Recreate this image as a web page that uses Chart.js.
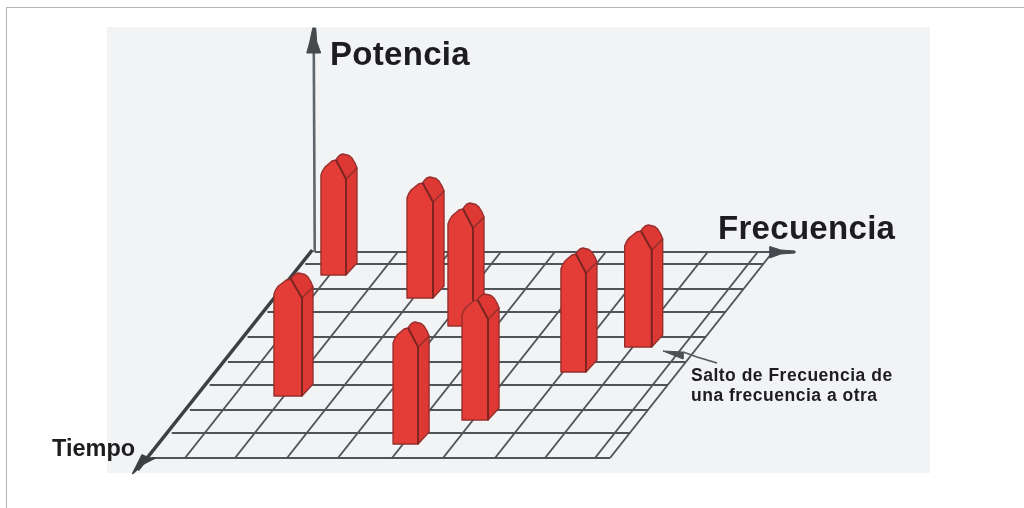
<!DOCTYPE html>
<html>
<head>
<meta charset="utf-8">
<title>Salto de Frecuencia</title>
<script src="https://cdn.jsdelivr.net/npm/chart.js@4"></script>
<style>
    body { margin: 0; background: #fff; }
    .frame { position: absolute; left: 6px; top: 7px; right: 0; bottom: 0; border-left: 1px solid #b4b4b4; border-top: 1px solid #b4b4b4; }
    canvas { position: absolute; left: 0; top: 0; }
</style>
</head>
<body>
<div class="frame"></div>
<canvas id="hopChart" width="1024" height="508"></canvas>
<script>
// grid lines on the floor
const frequencyTicks = [0, 33, 83, 135, 186, 240, 291, 343, 393, 443, 458];
const timeTicks = [0, 25, 48, 73, 96, 121, 146, 169, 194, 206];

// one entry per hop, far ones first
const hopFrequency = [24.4, 128.6, 191.7, 385, 341, 73, 280, 230];
const hopTime = [183, 160, 132, 111, 86, 62, 38, 14];
const hopPower = [121, 121, 123, 122, 124, 123, 126, 122];
const hopWidth = [25, 26, 25, 27, 25, 28, 26, 25];

const SHEAR = 0.79;

// floor coordinates + height to the flat chart coordinates
function project(f, t, p) {
    return { x: f + t * SHEAR, y: t + (p || 0) };
}

function polyline(points, color, width) {
    return {
        data: points,
        showLine: true,
        borderColor: color,
        borderWidth: width,
        pointRadius: 0,
        tension: 0,
        fill: false,
        clip: false,
    };
}

function polygon(points, fillColor, lineColor, width) {
    return {
        data: points.concat([points[0]]),
        showLine: true,
        borderColor: lineColor,
        borderWidth: width,
        backgroundColor: fillColor,
        pointRadius: 0,
        tension: 0,
        fill: 'shape',
        clip: false,
        borderJoinStyle: 'round',
    };
}

const GRID = '#505357';
const AXIS = '#46494d';
const RED = '#e43c37';
const RED_SIDE = '#de3834';
const EDGE = '#96302c';
const INNER_EDGE = '#7d2522';

const layers = [];

// floor
timeTicks.forEach(function (t) {
    layers.push(polyline([project(0, t), project(458, t)], GRID, 2.2));
});
frequencyTicks.slice(1).forEach(function (f) {
    layers.push(polyline([project(f, 0), project(f, 206)], GRID, 1.9));
});

// axes and arrow heads, all offsets from the axis ends
const powerBase = project(0, 206);
layers.push(polyline([powerBase, { x: powerBase.x - 1, y: powerBase.y + 215 }], '#5f666b', 2.6));
layers.push(polygon([
    { x: powerBase.x - 2, y: 430 }, { x: powerBase.x + 1, y: 430 }, { x: powerBase.x + 2, y: 416 },
    { x: powerBase.x + 6, y: 405 }, { x: powerBase.x - 8, y: 405 }, { x: powerBase.x - 5, y: 416 },
], AXIS, AXIS, 1));

layers.push(polyline([project(-5, -12), project(-4, 208)], '#3c3f43', 3.6));
layers.push(polygon([
    project(-7, -16), project(-12.4, 3), project(-3, 0), project(3, 0), project(-4, -6),
], '#3c3f43', '#3c3f43', 1.5));

const freqEnd = project(480, 206);
layers.push(polyline([project(458, 206), freqEnd], AXIS, 2.2));
layers.push(polygon([
    { x: freqEnd.x - 25, y: freqEnd.y + 5.5 }, { x: freqEnd.x - 14, y: freqEnd.y + 2 }, { x: freqEnd.x, y: freqEnd.y + 1 },
    { x: freqEnd.x, y: freqEnd.y - 1 }, { x: freqEnd.x - 14, y: freqEnd.y - 2 }, { x: freqEnd.x - 25, y: freqEnd.y - 6 },
], AXIS, AXIS, 1));

// pointer from the note to the hop
layers.push(polyline([{ x: 531, y: 106 }, { x: 545, y: 101 }, { x: 565, y: 95 }], '#55585c', 1.6));
layers.push(polygon([{ x: 511, y: 107 }, { x: 531, y: 106 }, { x: 531, y: 99 }], '#4d5054', '#4d5054', 1));

// hops, every one a block with a pitched top
hopFrequency.forEach(function (f, i) {
    const base = project(f, hopTime[i]);
    const w = hopWidth[i];
    const h = hopPower[i];
    const at = function (dx, dy) { return { x: base.x + dx, y: base.y + dy }; };

    layers.push(polygon([
        at(w, 0), at(w + 11, 12), at(w + 11, h - 14), at(w, h - 25),
    ], RED_SIDE, EDGE, 1.4));
    layers.push(polygon([
        at(w * 0.6, h - 6), at(w, h - 25), at(w + 11, h - 14), at(w + 9, h - 9), at(w + 6, h - 4),
        at(w + 3, h - 1.5), at(w * 0.88, h), at(w * 0.76, h - 1), at(w * 0.68, h - 3),
    ], RED_SIDE, EDGE, 1.4));
    layers.push(polygon([
        at(0, 0), at(w, 0), at(w, h - 25), at(w * 0.6, h - 6), at(w * 0.44, h - 7), at(w * 0.3, h - 10),
        at(w * 0.16, h - 13), at(w * 0.06, h - 17), at(0, h - 21),
    ], RED, EDGE, 1.4));
    layers.push(polyline([at(w, 0), at(w, h - 25), at(w * 0.6, h - 6)], INNER_EDGE, 1.9));
});

const annotations = [
    { text: 'Potencia', x: 178, y: 393, font: 'bold 33px "Liberation Sans"', spacing: '0.3px' },
    { text: 'Frecuencia', x: 566, y: 219, font: 'bold 33px "Liberation Sans"', spacing: '0.3px' },
    { text: 'Tiempo', x: -100, y: 2, font: 'bold 23.5px "Liberation Sans"', spacing: '0px' },
    { text: 'Salto de Frecuencia de', x: 539, y: 77, font: 'bold 17.5px "Liberation Sans"', spacing: '0.5px' },
    { text: 'una frecuencia a otra', x: 539, y: 57, font: 'bold 17.5px "Liberation Sans"', spacing: '0.5px' },
];

const panel = {
    id: 'panel',
    beforeDraw: function (chart) {
        const a = chart.chartArea;
        chart.ctx.fillStyle = '#f1f3f5';
        chart.ctx.fillRect(a.left, a.top, a.right - a.left, a.bottom - a.top);
    },
    afterDraw: function (chart) {
        const ctx = chart.ctx;
        ctx.save();
        ctx.fillStyle = '#1d1d1f';
        annotations.forEach(function (a) {
            ctx.font = a.font;
            ctx.letterSpacing = a.spacing;
            ctx.fillText(a.text, chart.scales.x.getPixelForValue(a.x), chart.scales.y.getPixelForValue(a.y));
        });
        ctx.restore();
    },
};

// chart.js paints the first dataset last
new Chart(document.getElementById('hopChart'), {
    type: 'scatter',
    data: { datasets: layers.reverse() },
    options: {
        responsive: false,
        animation: false,
        layout: { padding: { left: 107, right: 94, top: 27, bottom: 35 } },
        scales: {
            x: { display: false, min: -45, max: 778 },
            y: { display: false, min: -15, max: 431 },
        },
        plugins: { legend: { display: false }, tooltip: { enabled: false } },
    },
    plugins: [panel],
});
</script>
</body>
</html>
